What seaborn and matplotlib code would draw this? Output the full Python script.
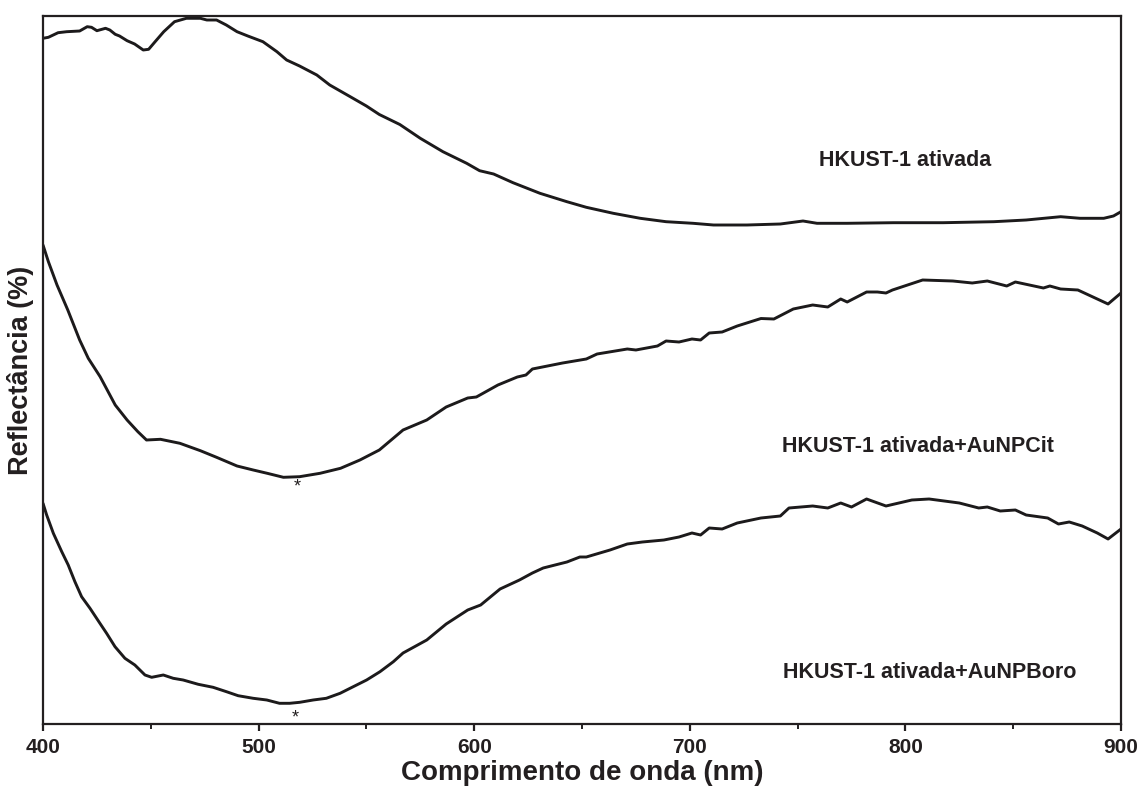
import numpy as np
import pandas as pd
import matplotlib
matplotlib.use("Agg")
import matplotlib.pyplot as plt
import seaborn as sns
from matplotlib.ticker import MultipleLocator

# ---- data (wavelength nm, reflectance in arbitrary offset units) ----
wl_ativada = [400, 402.5, 407, 411, 417, 420.5, 422.5, 425, 429, 431, 433.5, 435.5, 439, 442.5,
              446.5, 449, 452, 456, 461, 466.5, 473, 476, 480.5, 485, 490, 495, 502, 508.5, 513,
              519, 527, 533, 542.5, 550, 556, 565.5, 575, 585.5, 596.5, 602.5, 609, 618, 630.5,
              643, 652, 664.5, 677, 689, 701.5, 711, 726.5, 742, 752.5, 759, 773, 794.5, 817.5,
              841, 856, 872, 881, 892, 896.5, 900]
r_ativada = [685.7, 686.7, 691.3, 692.3, 693, 697.3, 696.7, 693.3, 695.7, 694, 689.7, 688, 683.3, 680,
             674, 674.7, 682.3, 692.3, 702.3, 705.7, 705.7, 704, 704, 699, 692.3, 688, 682.3, 672.3, 664,
             658, 649, 639, 627.3, 618, 609.5, 599.5, 585.7, 572.3, 560.7, 553.3, 550, 541.3, 530.7,
             522.3, 516.7, 510.7, 505.7, 502.3, 500.7, 499, 499, 500, 503, 500.7, 500.7, 501.3, 501.3,
             502.3, 504, 507.3, 505.7, 505.7, 508, 512.3]

wl_cit = [400, 402.5, 406.5, 411.5, 417, 421, 426.5, 433.5, 439, 444, 448, 454.5, 463.5, 473, 480.5,
          490, 497.5, 504, 511.5, 519, 528.5, 538, 547, 556, 567, 578, 587, 597, 601, 611, 620, 624,
          627, 641, 652, 657, 671, 675, 685, 689, 695, 701, 705, 709, 715, 722, 733, 739, 748, 757,
          764, 770, 773, 782, 787, 791, 794, 801, 808, 822, 831, 838, 847, 851, 864, 867, 872, 880,
          887, 894, 900]
r_cit = [479, 462.3, 439, 414, 384, 365.7, 347.3, 319, 304, 292.3, 284, 284.7, 280.7, 273.3, 266.7,
         258, 254, 250.7, 246.7, 247.3, 250.7, 255.7, 264, 274, 294, 304, 317, 326, 327, 339, 347, 349,
         355, 361, 365, 370, 375, 374, 378, 383, 382, 385, 384, 391, 392, 398, 405.5, 405, 415, 419,
         417, 425, 422, 432, 432, 431, 434, 439, 444, 443, 441, 443, 438, 442, 436, 438, 435, 434,
         427, 420, 431]

wl_boro = [400, 401.7, 404.8, 408.7, 411.7, 414.8, 417.9, 421.8, 426.4, 429.5, 433.4, 438, 442.6,
           447.3, 450.4, 455.8, 460.4, 465, 472, 478.9, 485.1, 490.5, 497.5, 503.8, 509.7, 514.4,
           519.1, 525.3, 531.4, 537.8, 543.9, 550.1, 556.3, 562.5, 567, 578, 587, 597, 603, 612, 621,
           627, 632, 643, 649, 652, 663, 671, 678, 688, 695, 701, 705, 709, 715, 722, 733, 742, 746,
           757, 764, 770, 775, 782, 791, 797, 803, 811, 825, 834, 838, 844, 851, 856, 866, 871, 876,
           882, 889, 894, 900]
r_boro = [220.7, 209, 190.7, 172.3, 159, 142.3, 127.3, 115.7, 100.7, 90.7, 77.3, 65.7, 59, 49, 46.7,
          49, 45.7, 44, 39.7, 36.7, 32.3, 28.3, 25.7, 24, 20.7, 20.7, 21.7, 24, 25.7, 30.7, 37.3, 44,
          52.3, 62.3, 71, 84, 100, 114, 119, 135, 144, 151, 156, 162, 167, 167, 174, 180, 182, 184, 187,
          191, 189, 196, 195, 201, 206, 208, 216, 218, 216, 221, 217, 225, 218, 221, 224, 225, 221, 216,
          217, 213, 214, 209, 206, 200, 202, 198, 191, 185, 195]

labels = ["HKUST-1 ativada", "HKUST-1 ativada+AuNPCit", "HKUST-1 ativada+AuNPBoro"]
label_x = [760.0, 742.8, 743.2]
label_y = [564, 277, 52]
star_x = [517.8, 517.0]
star_y = [237, 6]
x_ticks = [400, 500, 600, 700, 800, 900]

# ---- style ----
sns.set_theme(style="ticks")
plt.rcParams['font.family'] = ['Liberation Sans', 'DejaVu Sans']
plt.rcParams['font.weight'] = 'bold'

fig = plt.figure(figsize=(11.41, 7.88), dpi=100)
ax = fig.add_axes([43 / 1141, 64 / 788, 1078 / 1141, 708 / 788])

line_color = "#1c1a1b"
for wl, r in [(wl_ativada, r_ativada), (wl_cit, r_cit), (wl_boro, r_boro)]:
    df = pd.DataFrame({"wl": wl, "r": r})
    sns.lineplot(data=df, x="wl", y="r", ax=ax, color=line_color, lw=2.1,
                 estimator=None, sort=False)

for t, x, y in zip(labels, label_x, label_y):
    ax.text(x, y, t, fontsize=15.5, fontweight='bold', ha='left', va='center', color="#231f20")
for x, y in zip(star_x, star_y):
    ax.text(x, y, "*", fontsize=13, fontweight='normal', ha='center', va='center', color="#231f20")

ax.set_xlim(400, 900)
ax.set_ylim(0, 708)
ax.set_xticks(x_ticks)
ax.set_xticklabels([str(v) for v in x_ticks])
ax.xaxis.set_minor_locator(MultipleLocator(50))
ax.set_yticks([])

for s in ax.spines.values():
    s.set_visible(True)
    s.set_linewidth(1.6)
    s.set_color("#231f20")

ax.tick_params(axis='x', which='major', direction='out', length=5, width=1.6,
               labelsize=15, pad=5, colors="#231f20", top=False)
ax.tick_params(axis='x', which='minor', direction='out', length=3.5, width=1.4, top=False,
               colors="#231f20")
for lab in ax.get_xticklabels():
    lab.set_fontweight('bold')

ax.set_xlabel("Comprimento de onda (nm)", fontsize=20, fontweight='bold', labelpad=2, color="#231f20")
ax.set_ylabel("Reflectância (%)", fontsize=19.5, fontweight='bold', color="#231f20")
ax.yaxis.set_label_coords(-0.008, 0.5)

fig.savefig("out.png", dpi=100)
